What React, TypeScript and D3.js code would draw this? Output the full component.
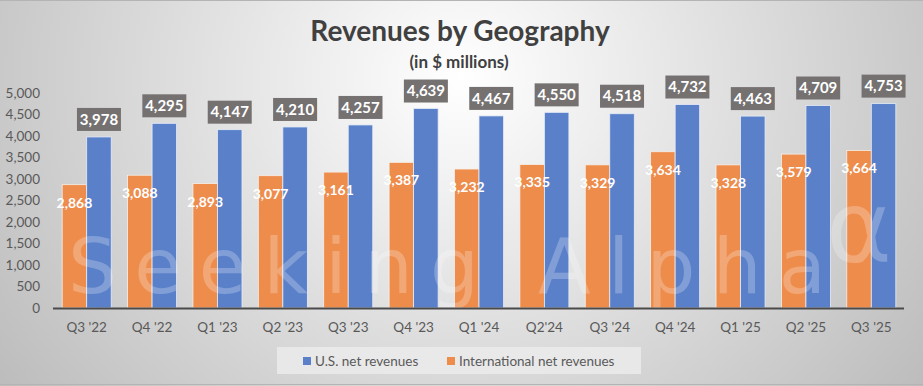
import React, { useEffect, useRef } from 'react';
import * as d3 from 'd3';

const categories = ["Q3 '22", "Q4 '22", "Q1 '23", "Q2 '23", "Q3 '23", "Q4 '23", "Q1 '24", "Q2'24", "Q3 '24", "Q4 '24", "Q1 '25", "Q2 '25", "Q3 '25"];
const usRevenues = [3978, 4295, 4147, 4210, 4257, 4639, 4467, 4550, 4518, 4732, 4463, 4709, 4753];
const intlRevenues = [2868, 3088, 2893, 3077, 3161, 3387, 3232, 3335, 3329, 3634, 3328, 3579, 3664];
const yTicks = [0, 500, 1000, 1500, 2000, 2500, 3000, 3500, 4000, 4500, 5000];
const seriesNames = ['U.S. net revenues', 'International net revenues'];

const blue = '#5a80c9';
const orange = '#ee8c4c';
const font = 'Lato, Carlito, Calibri, sans-serif';

export default function App() {
  const ref = useRef<SVGSVGElement>(null);

  useEffect(() => {
    const width = 923;
    const height = 386;
    const margin = { left: 54, right: 19, top: 93, bottom: 78 };

    const svg = d3.select(ref.current);
    svg.selectAll('*').remove();

    // Background
    const defs = svg.append('defs');
    const grad = defs.append('radialGradient')
      .attr('id', 'bg')
      .attr('cx', '50%').attr('cy', '20%')
      .attr('r', '62%')
      .attr('gradientTransform', 'translate(0.5,0.2) scale(1,2.2) translate(-0.5,-0.2)');
    grad.append('stop').attr('offset', '0%').attr('stop-color', '#ffffff');
    grad.append('stop').attr('offset', '100%').attr('stop-color', '#bcbcbc');

    svg.append('rect')
      .attr('width', width).attr('height', height)
      .attr('fill', 'url(#bg)');
    svg.append('line')
      .attr('x1', 0).attr('x2', width).attr('y1', 0.5).attr('y2', 0.5)
      .attr('stroke', '#b4b4b4');
    svg.append('line')
      .attr('x1', 0).attr('x2', width).attr('y1', height - 1.5).attr('y2', height - 1.5)
      .attr('stroke', '#b4b4b4');

    // Title
    svg.append('text')
      .text('Revenues by Geography')
      .attr('x', 460).attr('y', 41)
      .attr('text-anchor', 'middle')
      .attr('font-family', font).attr('font-weight', 'bold')
      .attr('font-size', 28).attr('fill', '#404040');
    svg.append('text')
      .text('(in $ millions)')
      .attr('x', 459).attr('y', 68)
      .attr('text-anchor', 'middle')
      .attr('font-family', font).attr('font-weight', 'bold')
      .attr('font-size', 17).attr('fill', '#404040');

    // Scales
    const x = d3.scaleBand()
      .domain(categories)
      .range([margin.left, width - margin.right])
      .paddingInner(0.25)
      .paddingOuter(0.125);
    const sub = d3.scaleBand()
      .domain(['intl', 'us'])
      .range([0, x.bandwidth()]);
    const y = d3.scaleLinear()
      .domain([0, 5000])
      .range([height - margin.bottom, margin.top]);

    // Y-axis labels
    svg.append('g')
      .selectAll('text')
      .data(yTicks)
      .enter()
        .append('text')
        .text(d => d3.format(',')(d))
        .attr('x', 40)
        .attr('y', d => y(d))
        .attr('dy', '0.35em')
        .attr('text-anchor', 'end')
        .attr('font-family', font).attr('font-size', 13.5)
        .attr('fill', '#595959');

    // Bars
    const groups = svg.append('g')
      .selectAll('g')
      .data(categories)
      .enter()
        .append('g')
        .attr('transform', d => `translate(${x(d)},0)`);

    groups.append('rect')
      .attr('x', sub('intl'))
      .attr('y', (d, i) => y(intlRevenues[i]))
      .attr('width', sub.bandwidth())
      .attr('height', (d, i) => y(0) - y(intlRevenues[i]))
      .attr('fill', orange)
      .attr('stroke', '#f6f0ea').attr('stroke-width', 0.8);

    groups.append('rect')
      .attr('x', sub('us'))
      .attr('y', (d, i) => y(usRevenues[i]))
      .attr('width', sub.bandwidth())
      .attr('height', (d, i) => y(0) - y(usRevenues[i]))
      .attr('fill', blue)
      .attr('stroke', '#e6ecf6').attr('stroke-width', 0.8);

    // Watermark, over the bars
    const mark = svg.append('g')
      .attr('fill', '#ffffff').attr('fill-opacity', 0.24)
      .attr('font-family', '"DejaVu Sans", sans-serif')
      .attr('font-weight', 400);
    mark.append('text')
      .text('Seeking Alpha')
      .attr('x', 68).attr('y', 293)
      .attr('font-size', 77)
      .attr('textLength', 758)
      .attr('lengthAdjust', 'spacing');
    mark.append('text')
      .text('α')
      .attr('x', 826).attr('y', 262)
      .attr('font-size', 100);

    // Axis line
    svg.append('line')
      .attr('x1', margin.left - 1).attr('x2', width - margin.right)
      .attr('y1', y(0) + 0.5).attr('y2', y(0) + 0.5)
      .attr('stroke', '#4a4a4a').attr('stroke-width', 1.8);

    // Category labels
    groups.append('text')
      .text(d => d)
      .attr('x', x.bandwidth() / 2)
      .attr('y', y(0) + 24)
      .attr('text-anchor', 'middle')
      .attr('font-family', font).attr('font-size', 13.5)
      .attr('fill', '#595959');

    // International labels (inside end)
    groups.append('text')
      .text((d, i) => d3.format(',')(intlRevenues[i]))
      .attr('x', sub('intl') + sub.bandwidth() / 2)
      .attr('y', (d, i) => y(intlRevenues[i]) + 18)
      .attr('dy', '0.35em')
      .attr('text-anchor', 'middle')
      .attr('font-family', font).attr('font-weight', 'bold')
      .attr('font-size', 14).attr('fill', '#ffffff');

    // U.S. labels (boxed, outside end)
    const boxW = 44;
    const boxH = 23;
    groups.append('rect')
      .attr('x', sub('us') + sub.bandwidth() / 2 - boxW / 2)
      .attr('y', (d, i) => y(usRevenues[i]) - 6 - boxH)
      .attr('width', boxW).attr('height', boxH)
      .attr('fill', '#767171');
    groups.append('text')
      .text((d, i) => d3.format(',')(usRevenues[i]))
      .attr('x', sub('us') + sub.bandwidth() / 2)
      .attr('y', (d, i) => y(usRevenues[i]) - 6 - boxH / 2)
      .attr('dy', '0.35em')
      .attr('text-anchor', 'middle')
      .attr('font-family', font).attr('font-weight', 'bold')
      .attr('font-size', 15).attr('fill', '#ffffff');

    // Legend
    const legend = svg.append('g');
    legend.append('rect')
      .attr('x', 277).attr('y', 347)
      .attr('width', 364).attr('height', 27)
      .attr('fill', '#ebebeb').attr('fill-opacity', 0.85);
    const legendItems = [
      { name: seriesNames[0], color: blue, x: 303 },
      { name: seriesNames[1], color: orange, x: 447 },
    ];
    legendItems.forEach(item => {
      legend.append('rect')
        .attr('x', item.x).attr('y', 357)
        .attr('width', 8).attr('height', 8)
        .attr('fill', item.color);
      legend.append('text')
        .text(item.name)
        .attr('x', item.x + 12).attr('y', 361)
        .attr('dy', '0.35em')
        .attr('font-family', font).attr('font-size', 13.5)
        .attr('fill', '#595959');
    });
  }, []);

  return (
    <svg
      ref={ref}
      width={923}
      height={386}
      style={{ position: 'absolute', left: 0, top: 0, display: 'block' }}
    />
  );
}
